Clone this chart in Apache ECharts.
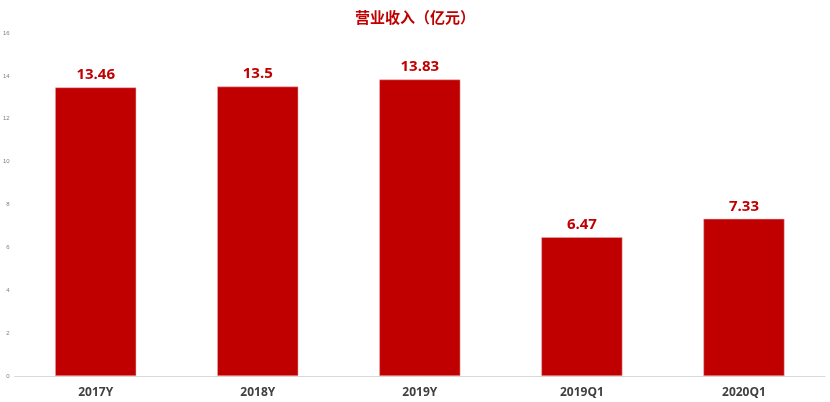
<!DOCTYPE html>
<html><head><meta charset="utf-8">
<script src="https://cdn.jsdelivr.net/npm/echarts@6/dist/echarts.min.js"></script>
<style>html,body{margin:0;padding:0;background:#fff}#c{width:830px;height:402px}</style>
</head><body><div id="c"></div>
<script>
const categories = ['2017Y','2018Y','2019Y','2019Q1','2020Q1'];
const revenue = [13.46, 13.5, 13.83, 6.47, 7.33];
const yTicks = [0,2,4,6,8,10,12,14,16];
const chart = echarts.init(document.getElementById('c'));
chart.setOption({
  animation:false,
  title:{text:'营业收入（亿元）',left:'center',top:5,textStyle:{color:'#c00000',fontSize:15,fontWeight:'bold',fontFamily:'Noto Sans CJK SC'}},
  grid:{left:14,right:5,top:33,bottom:26,containLabel:false},
  xAxis:{type:'category',data:categories,axisTick:{show:false},
    axisLine:{lineStyle:{color:'#d9d9d9',width:1}},
    axisLabel:{color:'#404040',fontSize:12,fontWeight:'bold',margin:11,fontFamily:'Open Sans'}},
  yAxis:{type:'value',min:yTicks[0],max:yTicks[yTicks.length-1],interval:2,
    splitLine:{show:false},axisLine:{show:false},axisTick:{show:false},
    axisLabel:{color:'#7f7f7f',fontSize:6,margin:5}},
  series:[{type:'bar',data:revenue,barWidth:'50%',
    itemStyle:{color:'#c00000',borderColor:'#e6b0b0',borderWidth:0.5},
    label:{show:true,position:'top',color:'#c00000',fontSize:15,fontWeight:'bold',distance:5,fontFamily:'Open Sans'}}]
});
</script></body></html>
